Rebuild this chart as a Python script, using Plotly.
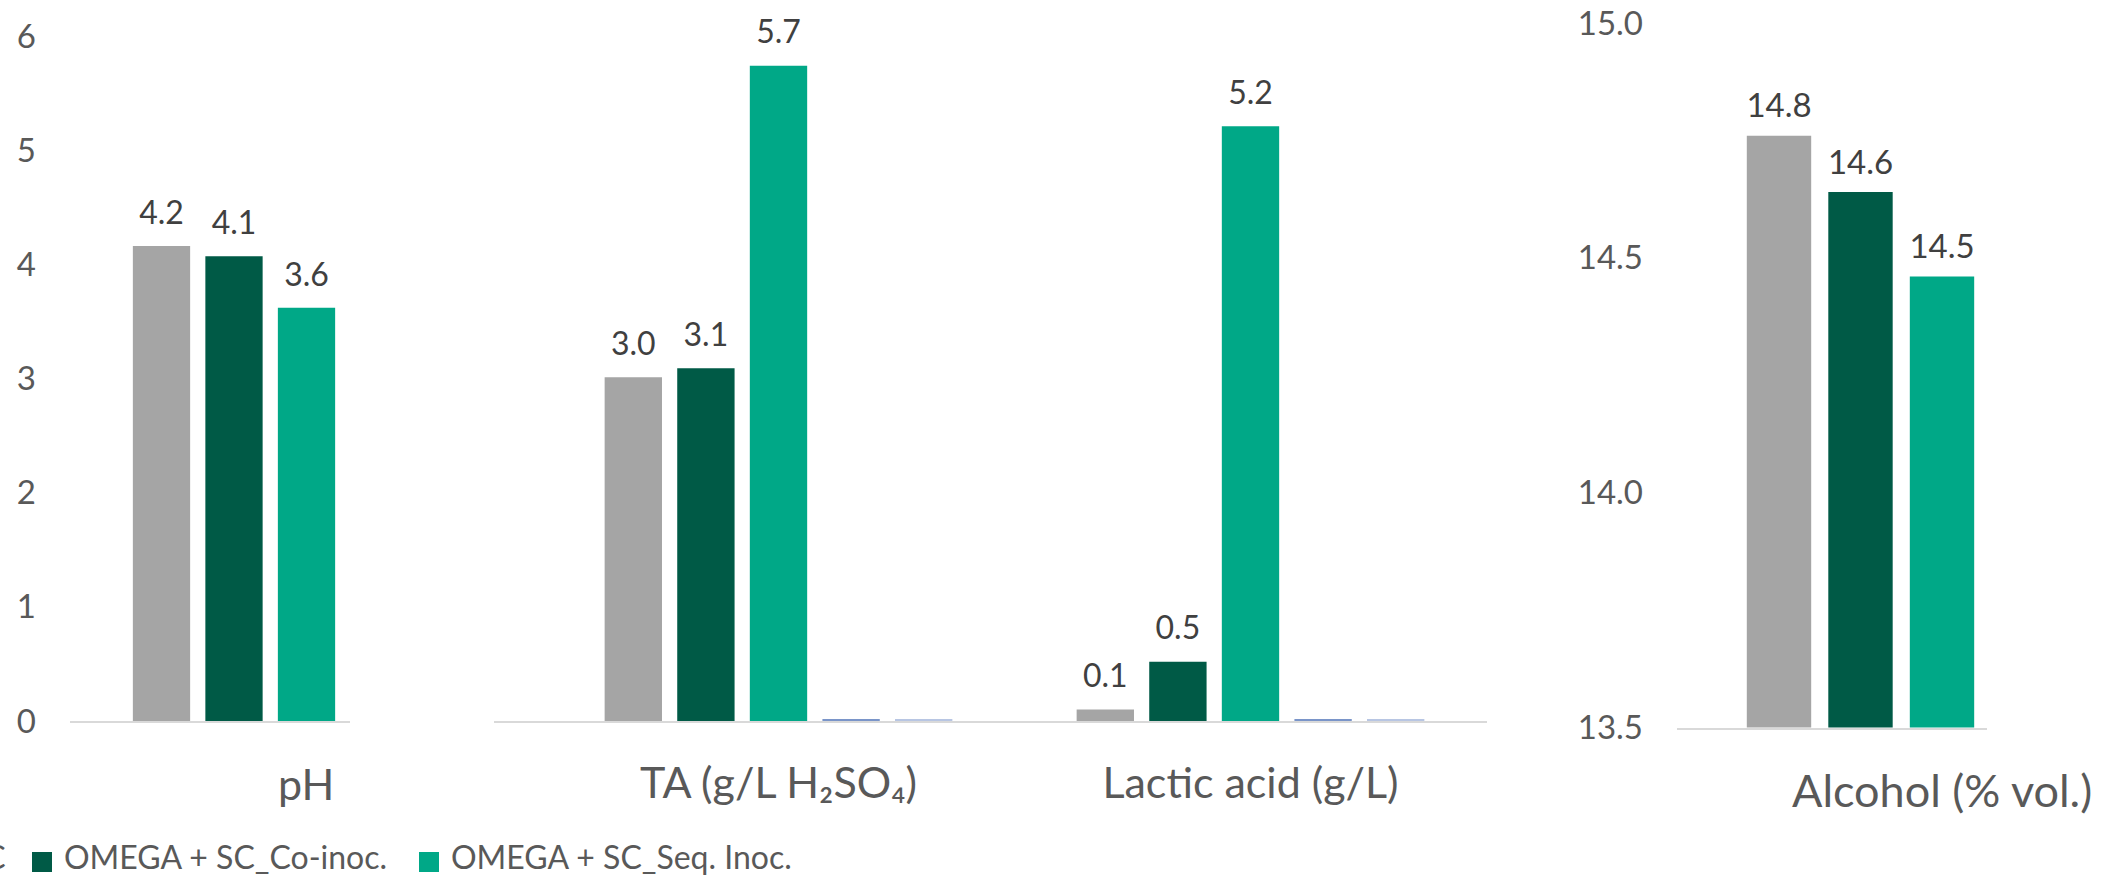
import plotly.graph_objects as go

# ---------------- data ----------------
series_names = ["SC", "OMEGA + SC_Co-inoc.", "OMEGA + SC_Seq. Inoc.", "Series 4", "Series 5"]
series_colors = ["#A5A5A5", "#005A46", "#00A887", "#7A95C9", "#B8C6E3"]

ph_categories = ["pH"]
ph_sc = [4.16]
ph_co = [4.07]
ph_seq = [3.62]

acid_categories = ["TA (g/L H₂SO₄)", "Lactic acid (g/L)"]
acid_sc = [3.01, 0.10]
acid_co = [3.09, 0.52]
acid_seq = [5.74, 5.21]
acid_s4 = [0.012, 0.012]
acid_s5 = [0.012, 0.012]

alc_categories = ["Alcohol (% vol.)"]
alc_sc = [14.76]
alc_co = [14.64]
alc_seq = [14.46]

left_tickvals = [0, 1, 2, 3, 4, 5, 6]
alc_tickvals = [13.5, 14.0, 14.5, 15.0]
alc_ticktext = ["13.5", "14.0", "14.5", "15.0"]

# ---------------- layout helpers ----------------
W, H = 2106, 879
FONT = "Lato"
TICK_COLOR = "#595959"
LABEL_COLOR = "#404040"


def px(x):
    return x / W


def py(y):
    return 1 - y / H


def label_texts(values, size):
    return [
        f"<span style='font-size:{size}px'>{v:.1f}</span><br><span style='font-size:4px'>\u00a0</span>"
        for v in values
    ]


fig = go.Figure()


def add_bar(cats, vals, idx, xa, ya, labels=True, size=32, spacer=14, clip=False):
    fig.add_trace(go.Bar(
        x=cats, y=vals, name=series_names[idx],
        marker=dict(color=series_colors[idx], line=dict(width=0)),
        xaxis=xa, yaxis=ya,
        text=label_texts(vals, size) if labels else None,
        textposition="outside" if labels else "none",
        textfont=dict(family=FONT, size=spacer, color=LABEL_COLOR),
        constraintext="none", textangle=0, cliponaxis=clip,
        showlegend=False, hoverinfo="skip",
    ))


# pH panel
add_bar(ph_categories, ph_sc, 0, "x", "y")
add_bar(ph_categories, ph_co, 1, "x", "y")
add_bar(ph_categories, ph_seq, 2, "x", "y")

# acids panel
add_bar(acid_categories, acid_sc, 0, "x2", "y")
add_bar(acid_categories, acid_co, 1, "x2", "y")
add_bar(acid_categories, acid_seq, 2, "x2", "y")
add_bar(acid_categories, acid_s4, 3, "x2", "y", labels=False)
add_bar(acid_categories, acid_s5, 4, "x2", "y", labels=False)

# alcohol panel
add_bar(alc_categories, alc_sc, 0, "x3", "y3", size=33, spacer=11, clip=True)
add_bar(alc_categories, alc_co, 1, "x3", "y3", size=33, spacer=11, clip=True)
add_bar(alc_categories, alc_seq, 2, "x3", "y3", size=33, spacer=11, clip=True)

axis_line = dict(showline=True, linecolor="#D9D9D9", linewidth=2, showgrid=False,
                 zeroline=False, ticks="", fixedrange=True, type="category")
yaxis_common = dict(showline=False, showgrid=False, zeroline=False, ticks="",
                    fixedrange=True, tickfont=dict(family=FONT, size=33, color=TICK_COLOR),
                    ticklabelstandoff=33)

CAT_SIZE = 43

fig.update_layout(
    width=W, height=H,
    margin=dict(l=0, r=0, t=0, b=0, autoexpand=False),
    paper_bgcolor="white", plot_bgcolor="white",
    barmode="group", bargap=0.231, bargroupgap=0.21,
    font=dict(family=FONT, color=TICK_COLOR),
    xaxis=dict(axis_line, domain=[px(70), px(350)], range=[-0.57983, 0.41013],
               anchor="y", showticklabels=False),
    xaxis2=dict(axis_line, domain=[px(494), px(1487)], range=[-0.60275, 1.50106],
                anchor="y", showticklabels=True,
                tickfont=dict(family=FONT, size=CAT_SIZE, color=TICK_COLOR), ticklabelstandoff=23),
    xaxis3=dict(axis_line, domain=[px(1677), px(1987)], range=[-0.57713, 0.39787],
                anchor="y3", showticklabels=False),
    yaxis=dict(yaxis_common, domain=[py(721), py(36)], range=[0, 6],
               tickvals=left_tickvals, anchor="x"),
    yaxis3=dict(yaxis_common, domain=[py(727.5), py(23)], range=[13.5, 15.0],
                tickvals=alc_tickvals, ticktext=alc_ticktext, anchor="x3"),
)

# category labels that sit offset from their bar groups
fig.add_annotation(text=ph_categories[0], xref="x", x=ph_categories[0], xshift=72,
                   yref="paper", y=py(783.5), yanchor="middle", showarrow=False,
                   font=dict(family=FONT, size=CAT_SIZE, color=TICK_COLOR))
fig.add_annotation(text=alc_categories[0], xref="x3", x=alc_categories[0], xshift=81.5,
                   yref="paper", y=py(789.5), yanchor="middle", showarrow=False,
                   font=dict(family=FONT, size=45, color=TICK_COLOR))

# legend (its left part is cut off by the picture edge, as in the original)
legend_items = [
    (0, -62, 8, "right"),
    (1, 32, 62, "left"),
    (2, 419, 449, "left"),
]
for idx, sq_x, tx, anchor in legend_items:
    fig.add_shape(type="rect", xref="paper", yref="paper",
                  x0=px(sq_x), x1=px(sq_x + 20), y0=py(872), y1=py(852),
                  fillcolor=series_colors[idx], line=dict(width=0))
    fig.add_annotation(text=series_names[idx], xref="paper", yref="paper",
                       x=px(tx), xanchor=anchor, y=py(878), yanchor="bottom",
                       showarrow=False, font=dict(family=FONT, size=32, color=TICK_COLOR))

fig.write_html("out.html", config={"displayModeBar": False},
               post_script="document.body.style.margin='0';document.body.style.overflow='hidden';")
